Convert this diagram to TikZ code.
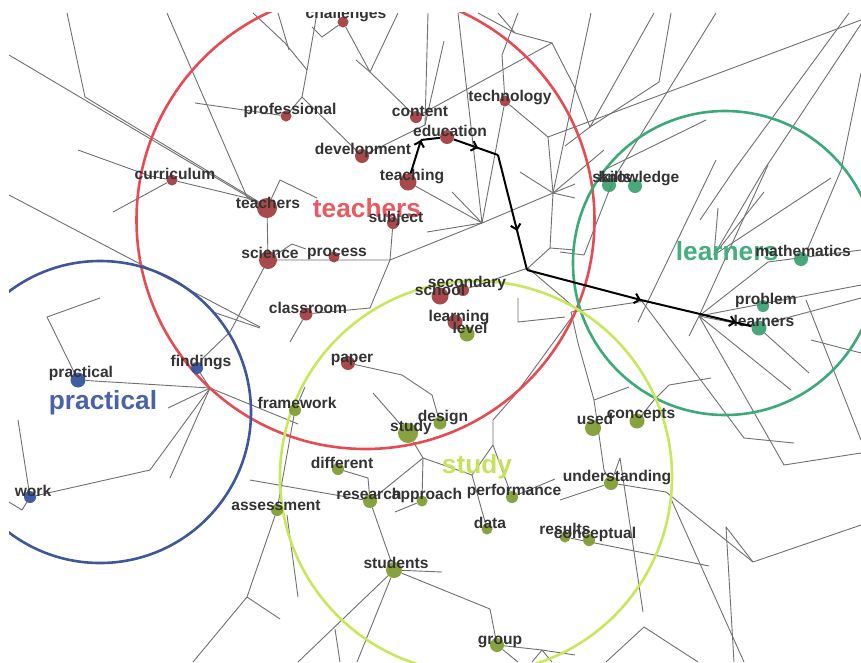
\documentclass[tikz,border=0pt]{standalone}
\usepackage{fontspec}
\setmainfont{Liberation Sans}
\usetikzlibrary{arrows.meta,decorations.markings}
\definecolor{edgegray}{HTML}{707070}
\definecolor{termgray}{HTML}{333333}
\definecolor{ringred}{HTML}{E84A52}
\definecolor{ringblue}{HTML}{3E5799}
\definecolor{ringgreen}{HTML}{3DA97A}
\definecolor{ringlime}{HTML}{C9E75A}
\definecolor{dotred}{HTML}{A33A3C}
\definecolor{dotblue}{HTML}{30509C}
\definecolor{dotgreen}{HTML}{3AA070}
\definecolor{dotolive}{HTML}{7E9B30}
\definecolor{topicred}{HTML}{E85A60}
\definecolor{topicblue}{HTML}{4A62A8}
\definecolor{topicgreen}{HTML}{45AE7E}
\definecolor{topiclime}{HTML}{C6E25C}
\pgfdeclarelayer{paper}
\pgfdeclarelayer{edges}
\pgfdeclarelayer{rings}
\pgfsetlayers{paper,edges,rings,main}
\newcommand\frameclip{\clip (9,12) rectangle (861,662);}
\tikzset{
  edge/.style={draw=edgegray, line width=0.9pt, line join=round},
  ring/.style={draw=#1, line width=2.6pt},
  dot/.style={circle, fill=#1, fill opacity=0.92, draw=none, inner sep=0pt, minimum size=11pt},
  sz/.style={minimum size=#1},
  term/.style={font=\bfseries\fontsize{15.6}{16}\selectfont, text=termgray, inner sep=0pt,
               text height=11pt, text depth=3pt},
  topic/.style={font=\bfseries\fontsize{26.3}{28}\selectfont, text=#1, inner sep=0pt,
                text height=19pt, text depth=6pt},
  route/.style={draw=black, line width=2pt, line join=round},
  tipat/.style={postaction={decorate}, decoration={markings,
      mark=at position #1 with {\arrow{Straight Barb[length=5pt,width=10pt]}}}}
}
\begin{document}
\begin{tikzpicture}[x=1pt,y=-1pt]
\useasboundingbox (0,0) rectangle (861,662);
\begin{pgfonlayer}{paper}
\fill[white] (0,0) rectangle (861,662);
\end{pgfonlayer}

\begin{scope}
\frameclip
% ---------- keyword dots ----------
\node[dot=dotred] (challenges) at (343,22) {};
\node[dot=dotred] (professional) at (286,116) {};
\node[dot=dotred, sz=12pt] (content) at (416,117) {};
\node[dot=dotred] (technology) at (505,101) {};
\node[dot=dotred, sz=14pt] (education) at (447,137) {};
\node[dot=dotred, sz=14pt] (development) at (362,156) {};
\node[dot=dotred] (curriculum) at (172,180) {};
\node[dot=dotred, sz=17pt] (teaching) at (408,182) {};
\node[dot=dotred, sz=20pt] (teachers) at (267,208) {};
\node[dot=dotred, sz=12pt] (subject) at (393,223) {};
\node[dot=dotred, sz=18pt] (science) at (268,260) {};
\node[dot=dotred] (process) at (334,257) {};
\node[dot=dotred, sz=13pt] (classroom) at (306,314) {};
\node[dot=dotred, sz=12pt] (secondary) at (463,290) {};
\node[dot=dotred, sz=17pt] (school) at (440,296) {};
\node[dot=dotred, sz=15pt] (learning) at (455,322) {};
\node[dot=dotred, sz=14pt] (paper) at (348,363) {};

\node[dot=dotolive, sz=15pt] (level) at (467,334) {};
\node[dot=dotolive, sz=12pt] (framework) at (295,410) {};
\node[dot=dotolive, sz=13pt] (design) at (440,423) {};
\node[dot=dotolive, sz=20pt] (study) at (408,433) {};
\node[dot=dotolive, sz=12pt] (different) at (338,469) {};
\node[dot=dotolive, sz=14pt] (research) at (370,501) {};
\node[dot=dotolive] (approach) at (422,501) {};
\node[dot=dotolive, sz=12pt] (performance) at (512,497) {};
\node[dot=dotolive, sz=16pt] (used) at (593,428) {};
\node[dot=dotolive, sz=15pt] (concepts) at (637,421) {};
\node[dot=dotolive, sz=14pt] (understanding) at (611,483) {};
\node[dot=dotolive, sz=12pt] (assessment) at (277,510) {};
\node[dot=dotolive] (data) at (487,529) {};
\node[dot=dotolive] (results) at (565,537) {};
\node[dot=dotolive, sz=12pt] (conceptual) at (589,540) {};
\node[dot=dotolive, sz=16pt] (students) at (394,570) {};
\node[dot=dotolive, sz=14pt] (group) at (497,645) {};

\node[dot=dotgreen, sz=14pt] (skills) at (609,185) {};
\node[dot=dotgreen, sz=14pt] (knowledge) at (635,186) {};
\node[dot=dotgreen, sz=14pt] (mathematics) at (801,259) {};
\node[dot=dotgreen, sz=12pt] (problem) at (763,306) {};
\node[dot=dotgreen, sz=15pt] (learners) at (759,328) {};

\node[dot=dotblue, sz=15pt] (practical) at (78,380) {};
\node[dot=dotblue, sz=12pt] (findings) at (197,368) {};
\node[dot=dotblue, sz=12pt] (work) at (30,497) {};

% ---------- keyword labels ----------
\node[term] (t-challenges) at (346,14) {challenges};
\node[term] (t-professional) at (290,110) {professional};
\node[term] (t-content) at (420,112) {content};
\node[term] (t-technology) at (510,97) {technology};
\node[term] (t-education) at (450,132) {education};
\node[term] (t-development) at (363,150) {development};
\node[term] (t-curriculum) at (175,175) {curriculum};
\node[term] (t-teaching) at (412,176) {teaching};
\node[term] (t-teachers) at (268,204) {teachers};
\node[term] (t-subject) at (396,218) {subject};
\node[term] (t-science) at (270,254) {science};
\node[term] (t-process) at (337,252) {process};
\node[term] (t-classroom) at (308,309) {classroom};
\node[term] (t-secondary) at (467,283) {secondary};
\node[term] (t-school) at (440,291) {school};
\node[term] (t-learning) at (459,317) {learning};
\node[term] (t-level) at (470,329) {level};
\node[term] (t-paper) at (352,358) {paper};
\node[term] (t-framework) at (297,404) {framework};
\node[term] (t-design) at (443,417) {design};
\node[term] (t-study) at (411,427) {study};
\node[term] (t-different) at (342,464) {different};
\node[term] (t-research) at (369,495) {research};
\node[term] (t-approach) at (427,495) {approach};
\node[term] (t-performance) at (514,491) {performance};
\node[term] (t-used) at (595,420) {used};
\node[term] (t-concepts) at (641,414) {concepts};
\node[term] (t-understanding) at (617,477) {understanding};
\node[term] (t-assessment) at (276,506) {assessment};
\node[term] (t-data) at (490,524) {data};
\node[term] (t-results) at (565,530) {results};
\node[term] (t-conceptual) at (595,534) {conceptual};
\node[term] (t-students) at (396,564) {students};
\node[term] (t-group) at (500,640) {group};
\node[term] (t-skills) at (612,178) {skills};
\node[term] (t-knowledge) at (639,178) {knowledge};
\node[term] (t-mathematics) at (803,252) {mathematics};
\node[term] (t-problem) at (766,300) {problem};
\node[term] (t-learners) at (764,322) {learners};
\node[term] (t-practical) at (81,373) {practical};
\node[term] (t-findings) at (201,362) {findings};
\node[term] (t-work) at (33,492) {work};

% ---------- highlighted route ----------
\coordinate (r1) at (421,140);
\coordinate (r2) at (498,155);
\coordinate (r3) at (527,270);
\coordinate (r4) at (641,300);
\draw[route, tipat=1] (teaching) -- (r1);
\draw[route] (r1) -- (education);
\draw[route, tipat=0.55] (education) -- (r2);
\draw[route, tipat=0.66] (r2) -- (r3);
\draw[route, tipat=1] (r3) -- (r4);
\draw[route, tipat=0.86] (r4) -- (learners);
\end{scope}

% ---------- branch points of the tree ----------
\coordinate (hA) at (482,223);
\coordinate (hB) at (553,193);
\coordinate (hC) at (714,255);
\coordinate (hD) at (699,316);
\coordinate (hE) at (210,388);
\coordinate (hF) at (423,458);
\coordinate (hG) at (390,260);
\coordinate (hH) at (528,268);

% ---------- gray tree ----------
\begin{pgfonlayer}{edges}
\begin{scope}
\frameclip
\draw[edge] (9,55) -- (teachers);
\draw[edge] (67,13) -- (85,97) -- (259,202);
\draw[edge] (167,13) -- (247,197) -- (teachers);
\draw[edge] (78,150) -- (150,176) -- (curriculum);
\draw[edge] (113,212) -- (curriculum) -- (247,198) -- (teachers);
\draw[edge] (195,103) -- (professional);
\draw[edge] (professional) -- (302,97) -- (307,70) -- (317,13);
\draw[edge] (253,13) -- (285,43) -- (307,70);
\draw[edge] (278,13) -- (289,50);
\draw[edge] (302,97) -- (development);
\draw[edge] (312,27) -- (322,37) -- (challenges);
\draw[edge] (challenges) -- (370,72) -- (content);
\draw[edge] (356,60) -- (370,72) -- (398,13);
\draw[edge] (428,13) -- (425,125);
\draw[edge] (444,41) -- (425,125);
\draw[edge] (development) -- (425,125);
\draw[edge] (content) -- (552,43) -- (575,88) -- (590,127);
\draw[edge] (478,13) -- (515,33) -- (552,43);
\draw[edge] (498,13) -- (515,33);
\draw[edge] (518,13) -- (502,55) -- (technology);
\draw[edge] (technology) -- (548,137) -- (861,20);
\draw[edge] (548,137) -- (hB);
\draw[edge] (458,13) -- (hA);
\draw[edge] (hA) -- (technology);
\draw[edge] (591,13) -- (hB);
\draw[edge] (654,13) -- (590,127) -- (565,146);
\draw[edge] (671,13) -- (659,82) -- (590,127);
\draw[edge] (716,13) -- (614,178) -- (584,255) -- (560,252);
\draw[edge] (849,13) -- (734,170) -- (700,220);
\draw[edge] (861,24) -- (764,170) -- (hC);
\draw[edge] (861,73) -- (841,170) -- (808,248);
\draw[edge] (604,170) -- (706,120);
\draw[edge] (718,208) -- (hC);
\draw[edge] (764,192) -- (hC) -- (831,178);
\draw[edge] (716,160) -- (638,322);
\draw[edge] (768,165) -- (hD);
\draw[edge] (hD) -- (768,262) -- (861,250);
\draw[edge] (hD) -- (861,285);
\draw[edge] (hD) -- (689,336);
\draw[edge] (hD) -- (learners);
\draw[edge] (645,301) -- (571,312);
\draw[edge] (861,298) -- (771,322);
\draw[edge] (hD) -- (784,465) -- (861,453);
\draw[edge] (hD) -- (791,390);
\draw[edge] (r4) -- (744,438) -- (794,443);
\draw[edge] (learners) -- (809,373);
\draw[edge] (806,300) -- (861,440);
\draw[edge] (811,340) -- (861,353);
\draw[edge] (571,312) -- (578,343) -- (594,400) -- (629,387);
\draw[edge] (594,400) -- (604,470) -- (understanding);
\draw[edge] (concepts) -- (654,400) -- (669,385) -- (711,378);
\draw[edge] (understanding) -- (620,458) -- (643,612);
\draw[edge] (understanding) -- (666,492) -- (753,562) -- (861,525);
\draw[edge] (753,562) -- (726,527) -- (734,662);
\draw[edge] (671,499) -- (744,662);
\draw[edge] (understanding) -- (560,500);
\draw[edge] (results) -- (709,566);
\draw[edge] (606,662) -- (644,627) -- (698,662);
\draw[edge] (9,195) -- (260,327);
\draw[edge] (213,312) -- (260,328);
\draw[edge] (science) -- (230,332) -- (203,358) -- (findings);
\draw[edge] (findings) -- (hE);
\draw[edge] (practical) -- (hE) -- (298,424);
\draw[edge] (168,408) -- (hE) -- (170,478);
\draw[edge] (hE) -- (150,470) -- (work);
\draw[edge] (18,420) -- (work) -- (22,510) -- (9,502);
\draw[edge] (100,298) -- (47,317) -- (practical);
\draw[edge] (teachers) -- (280,180) -- (317,198);
\draw[edge] (teachers) -- (science);
\draw[edge] (science) -- (292,244) -- (306,249);
\draw[edge] (science) -- (hG) -- (subject);
\draw[edge] (hG) -- (hA) -- (hB);
\draw[edge] (hG) -- (370,308) -- (classroom);
\draw[edge] (classroom) -- (290,342);
\draw[edge] (hA) -- (427,232);
\draw[edge] (hA) -- (teaching);
\draw[edge] (hA) -- (452,192);
\draw[edge] (hB) -- (520,172);
\draw[edge] (hB) -- (575,184);
\draw[edge] (hB) -- (604,150);
\draw[edge] (hB) -- (575,198);
\draw[edge] (hB) -- (550,248) -- (575,250);
\draw[edge] (550,248) -- (hH) -- (secondary);
\draw[edge] (hH) -- (575,308);
\draw[edge] (518,298) -- (518,322) -- (565,317);
\draw[edge] (305,387) -- (framework) -- (assessment);
\draw[edge] (assessment) -- (247,597) -- (193,662);
\draw[edge] (247,597) -- (280,619);
\draw[edge] (287,515) -- (298,597);
\draw[edge] (paper) -- (402,375) -- (432,395) -- (design);
\draw[edge] (373,393) -- (study) -- (hF);
\draw[edge] (hF) -- (research);
\draw[edge] (hF) -- (approach);
\draw[edge] (hF) -- (472,475) -- (493,445) -- (493,420) -- (515,395) -- (577,310);
\draw[edge] (472,475) -- (data);
\draw[edge] (493,445) -- (performance) -- (555,479);
\draw[edge] (different) -- (368,478) -- (research);
\draw[edge] (250,480) -- (research) -- (students);
\draw[edge] (approach) -- (395,512);
\draw[edge] (students) -- (442,572);
\draw[edge] (students) -- (490,609) -- (group);
\draw[edge] (students) -- (298,662);
\draw[edge] (students) -- (357,662);
\draw[edge] (335,629) -- (340,662);
\draw[edge] (group) -- (542,650) -- (575,655);
\draw[edge] (group) -- (518,662);
\draw[edge] (542,650) -- (532,662);
\draw[edge] (542,650) -- (552,662);
\end{scope}
\end{pgfonlayer}

% ---------- topic circles and titles ----------
\begin{pgfonlayer}{rings}
\begin{scope}
\frameclip
\draw[ring=ringred] (365.5,220) circle [radius=229pt];
\draw[ring=ringblue] (100,412) circle [radius=151pt];
\draw[ring=ringgreen] (725,263) circle [radius=152pt];
\draw[ring=ringlime] (476,477) circle [radius=196pt];
\node[topic=topicred] (topic-teachers) at (367,211) {teachers};
\node[topic=topicgreen] (topic-learners) at (727,254) {learners};
\node[topic=topicblue] (topic-practical) at (103,403) {practical};
\node[topic=topiclime] (topic-study) at (477,467) {study};
\end{scope}
\end{pgfonlayer}
\end{tikzpicture}
\end{document}
